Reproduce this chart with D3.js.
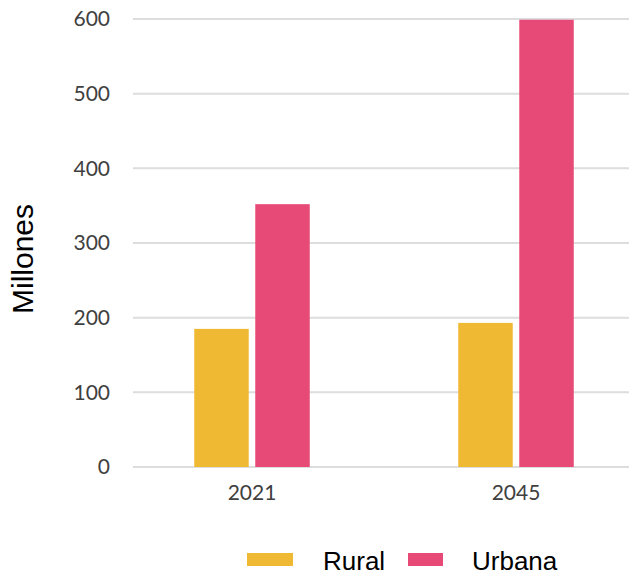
<!DOCTYPE html>
<html>
<head>
<meta charset="utf-8">
<script src="https://cdn.jsdelivr.net/npm/d3@7"></script>
<style>
  html, body { margin: 0; padding: 0; background: #fff; }
  svg { display: block; }
</style>
</head>
<body>
<svg id="chart" width="629" height="575"></svg>
<script>
// Población (millones) por año y área
const years = ["2021", "2045"];
const seriesNames = ["Rural", "Urbana"];
const rural = [185, 193];
const urbana = [352, 599];
const yTicks = [0, 100, 200, 300, 400, 500, 600];
const colors = ["#F0B934", "#E84A77"];

const rows = years.map((y, i) => ({ year: y, values: [rural[i], urbana[i]] }));

const svg = d3.select("#chart");
const gridLeft = 133, gridRight = 629;
const yTop = 19, yBottom = 467;

const y = d3.scaleLinear().domain([0, 600]).range([yBottom, yTop]);

const x0 = d3.scaleBand()
  .domain(years)
  .range([133, 635])
  .paddingInner(0.5625)
  .paddingOuter(0.232);

const x1 = d3.scaleBand()
  .domain(seriesNames)
  .range([0, x0.bandwidth()])
  .paddingInner(0.107);

// Líneas de cuadrícula horizontales
svg.append("g")
  .selectAll("line")
  .data(yTicks)
  .join("line")
  .attr("x1", gridLeft)
  .attr("x2", gridRight)
  .attr("y1", d => y(d))
  .attr("y2", d => y(d))
  .attr("stroke", "#dddddd")
  .attr("stroke-width", 2);

// Etiquetas del eje Y
const yAxis = svg.append("g")
  .attr("transform", `translate(110,0)`)
  .call(d3.axisLeft(y).tickValues(yTicks).tickSize(0).tickPadding(0));
yAxis.select(".domain").remove();
yAxis.selectAll("text")
  .attr("font-family", "Lato, 'Open Sans', sans-serif")
  .attr("font-size", 21)
  .attr("fill", "#404040");

// Barras agrupadas
const groups = svg.append("g")
  .selectAll("g")
  .data(rows)
  .join("g")
  .attr("transform", d => `translate(${x0(d.year)},0)`);

groups.selectAll("rect")
  .data(d => d.values.map((v, i) => ({ key: seriesNames[i], value: v, i })))
  .join("rect")
  .attr("x", d => x1(d.key))
  .attr("width", x1.bandwidth())
  .attr("y", d => y(d.value))
  .attr("height", d => y(0) - y(d.value))
  .attr("fill", d => colors[d.i]);

// Eje X
const xAxis = svg.append("g")
  .attr("transform", `translate(0,${yBottom + 10})`)
  .call(d3.axisBottom(x0).tickSize(0).tickPadding(8));
xAxis.select(".domain").remove();
xAxis.selectAll("text")
  .attr("font-family", "Lato, 'Open Sans', sans-serif")
  .attr("font-size", 21)
  .attr("fill", "#404040");

// Título del eje Y
svg.append("text")
  .attr("transform", "translate(33,259) rotate(-90)")
  .attr("text-anchor", "middle")
  .attr("font-family", "'Liberation Sans', Arial, sans-serif")
  .attr("font-size", 30)
  .attr("fill", "#000")
  .text("Millones");

// Leyenda
const legend = [
  { name: "Rural", color: colors[0], sx: 247, sw: 46, tx: 323 },
  { name: "Urbana", color: colors[1], sx: 408, sw: 35, tx: 472 }
];
const lg = svg.append("g");
legend.forEach(d => {
  lg.append("rect")
    .attr("x", d.sx).attr("y", 553)
    .attr("width", d.sw).attr("height", 13)
    .attr("fill", d.color);
  lg.append("text")
    .attr("x", d.tx).attr("y", 570)
    .attr("font-family", "'Liberation Sans', Arial, sans-serif")
    .attr("font-size", 26)
    .attr("fill", "#000")
    .text(d.name);
});
</script>
</body>
</html>
